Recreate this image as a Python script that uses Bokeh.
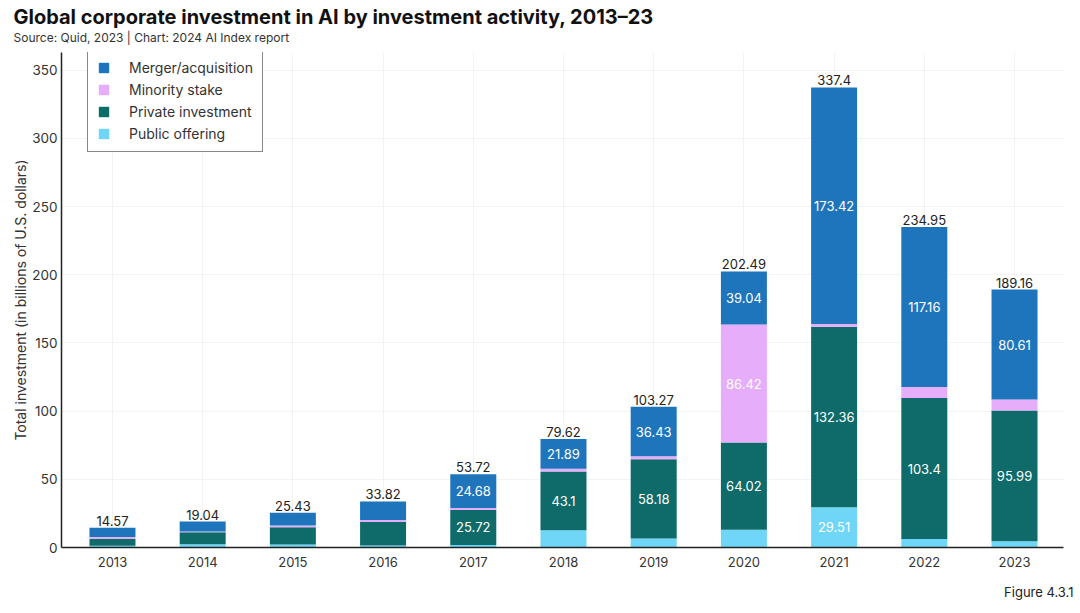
from bokeh.plotting import figure
from bokeh.models import ColumnDataSource, Legend, LegendItem, Title, FixedTicker, Range1d
from bokeh.core.properties import value
from bokeh.embed import file_html
from bokeh.resources import INLINE

years = [2013, 2014, 2015, 2016, 2017, 2018, 2019, 2020, 2021, 2022, 2023]
merger = [6.8, 7.3, 9.3, 13.7, 24.68, 21.89, 36.43, 39.04, 173.42, 117.16, 80.61]
minority = [1.5, 0.5, 1.2, 1.5, 1.5, 2.0, 2.1, 86.42, 2.11, 8.2, 8.0]
private = [4.9, 8.8, 12.7, 17.1, 25.72, 43.1, 58.18, 64.02, 132.36, 103.4, 95.99]
public = [1.37, 2.44, 2.23, 1.52, 1.82, 12.63, 6.56, 13.01, 29.51, 6.19, 4.56]
totals = [14.57, 19.04, 25.43, 33.82, 53.72, 79.62, 103.27, 202.49, 337.4, 234.95, 189.16]
y_ticks = [0, 50, 100, 150, 200, 250, 300, 350]

series_names = ["Public offering", "Private investment", "Minority stake", "Merger/acquisition"]
series_keys = ["public", "private", "minority", "merger"]
series_colors = ["#6FD6F7", "#0F6B6A", "#E5ADFA", "#1F75BC"]
series_vals = [public, private, minority, merger]

FONT = "Inter"

src = ColumnDataSource(dict(year=years, public=public, private=private,
                            minority=minority, merger=merger, total=totals,
                            total_txt=[f"{t:g}" for t in totals]))

p = figure(width=1080, height=613, output_backend="svg", toolbar_location=None,
           x_range=Range1d(2012.435, 2023.543), y_range=Range1d(0, 363),
           min_border_left=61, min_border_right=17, min_border_top=52, min_border_bottom=66)
p.outline_line_color = None

p.add_layout(Title(text="Source: Quid, 2023 | Chart: 2024 AI Index report", text_font=FONT,
                   text_font_size="12px", text_font_style="normal", text_color="#333333",
                   offset=-48, standoff=16), "above")
p.add_layout(Title(text="Global corporate investment in AI by investment activity, 2013\u201323",
                   text_font=FONT, text_font_size="20px", text_font_style="bold",
                   text_color="#111111", offset=-48, standoff=-18), "above")
p.add_layout(Title(text="Figure 4.3.1", text_font=FONT, text_font_size="13px",
                   text_font_style="normal", text_color="#222222", align="right",
                   offset=-10, standoff=24), "below")

renderers = p.vbar_stack(series_keys, x="year", width=0.51, source=src,
                         color=series_colors, line_color=None)

# inner labels
lx, ly, lt = [], [], []
for i, yr in enumerate(years):
    base = 0.0
    for vals in series_vals:
        v = vals[i]
        if v >= 20:
            lx.append(yr)
            ly.append(base + v / 2)
            lt.append(f"{v:g}")
        base += v
p.text(x="x", y="y", text="t", source=ColumnDataSource(dict(x=lx, y=ly, t=lt)),
       text_color="white", text_font=value(FONT), text_font_size="13px",
       text_align="center", text_baseline="middle")

p.text(x="year", y="total", text="total_txt", source=src, y_offset=-2,
       text_color="#222222", text_font=value(FONT), text_font_size="13px",
       text_align="center", text_baseline="bottom")

# axes
p.xaxis.ticker = FixedTicker(ticks=years)
p.yaxis.ticker = FixedTicker(ticks=y_ticks)
for ax in (p.xaxis[0], p.yaxis[0]):
    ax.axis_line_color = "#222222"
    ax.axis_line_width = 1.5
    ax.major_tick_line_color = None
    ax.minor_tick_line_color = None
    ax.major_tick_out = 0
    ax.major_tick_in = 0
    ax.minor_tick_out = 0
    ax.major_label_text_font = FONT
    ax.major_label_text_font_size = "13px"
    ax.major_label_text_color = "#333333"
p.xaxis.major_label_standoff = 9
p.yaxis.major_label_standoff = 4
p.yaxis.major_label_text_font_size = "13.5px"
p.yaxis.axis_label = "Total investment (in billions of U.S. dollars)"
p.yaxis.axis_label_text_font = FONT
p.yaxis.axis_label_text_font_size = "14px"
p.yaxis.axis_label_text_font_style = "normal"
p.yaxis.axis_label_text_color = "#333333"
p.yaxis.axis_label_standoff = 0

p.xgrid.grid_line_color = "#f3f3f3"
p.ygrid.grid_line_color = "#f3f3f3"

# legend in desired order
order = [3, 2, 1, 0]
legend = Legend(items=[LegendItem(label=series_names[k], renderers=[renderers[k]]) for k in order],
                location=(26, 395), label_text_font=FONT, label_text_font_size="14px",
                label_text_color="#333333", border_line_color="#111111", border_line_width=1.5,
                glyph_width=13, glyph_height=13, label_standoff=19, spacing=5,
                padding=9, margin=0, background_fill_alpha=1)
p.add_layout(legend)

open("out.html", "w").write(file_html(p, INLINE))
